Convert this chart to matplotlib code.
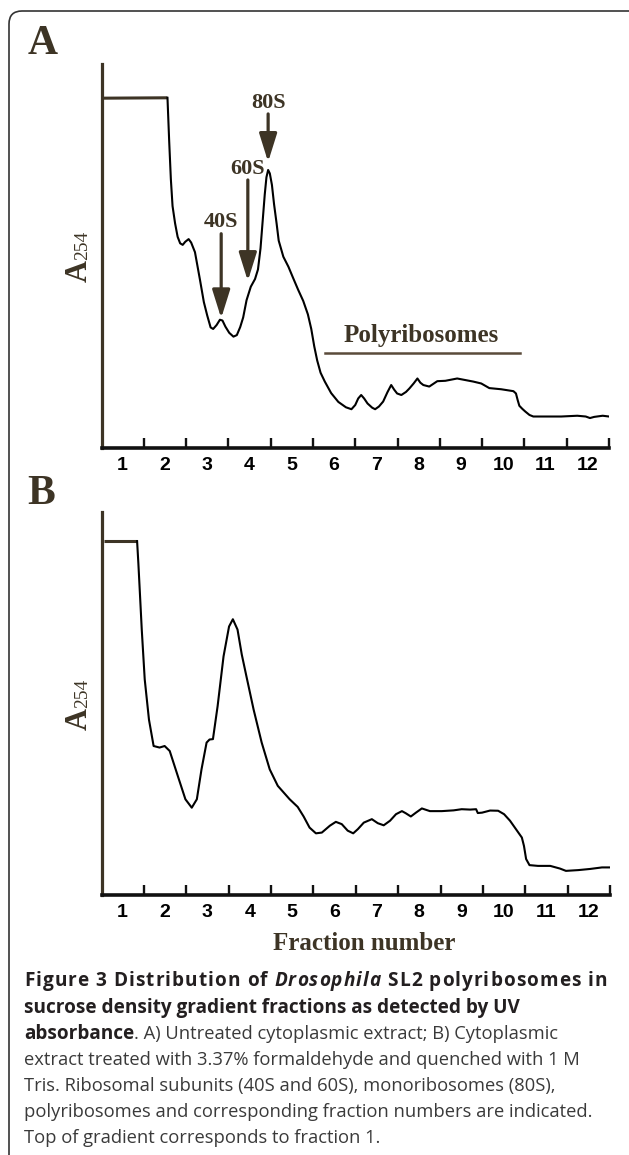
import matplotlib
matplotlib.use("Agg")
import matplotlib.pyplot as plt
import numpy as np
from matplotlib.patches import FancyBboxPatch

W, H = 629, 1155
BROWN = "#3d3425"

# panel A: untreated extract, A254 trace (x = fraction position, y = relative absorbance)
x_a = [0.05, 1.56, 1.60, 1.64, 1.68, 1.74, 1.80, 1.86, 1.92, 1.98, 2.06, 2.12, 2.21,
       2.33, 2.42, 2.50, 2.58, 2.64, 2.72, 2.80, 2.86, 2.93, 3.02, 3.12, 3.20, 3.28,
       3.35, 3.43, 3.53, 3.63, 3.70, 3.76, 3.81, 3.86, 3.90, 3.94, 3.98, 4.03, 4.08,
       4.14, 4.19, 4.30, 4.42, 4.53, 4.65, 4.77, 4.88, 4.96, 5.03, 5.10, 5.18, 5.28,
       5.43, 5.60, 5.78, 5.91, 6.00, 6.07, 6.14, 6.21, 6.29, 6.40, 6.47, 6.56, 6.66,
       6.76, 6.85, 6.92, 6.99, 7.09, 7.20, 7.28, 7.38, 7.47, 7.54, 7.61, 7.75, 7.94,
       8.13, 8.41, 8.60, 8.79, 8.98, 9.17, 9.45, 9.74, 9.80, 9.84, 9.88, 9.95, 10.02,
       10.12, 10.21, 10.87, 11.25, 11.45, 11.55, 11.65, 11.85, 12.0]
y_a = [91.1, 91.2, 80.0, 70.0, 63.0, 58.5, 55.0, 53.3, 52.9, 53.7, 54.4, 53.5, 51.0,
       43.7, 38.0, 34.5, 31.4, 31.0, 32.0, 33.4, 33.2, 31.6, 30.0, 29.0, 29.4, 31.5,
       34.0, 38.5, 42.0, 44.0, 46.5, 52.0, 59.0, 66.0, 70.5, 72.4, 71.5, 68.5, 63.5,
       58.5, 54.0, 49.8, 47.2, 44.3, 41.2, 38.3, 34.8, 31.0, 26.5, 22.8, 19.6, 17.3,
       14.3, 12.0, 10.6, 10.1, 11.2, 12.9, 13.8, 12.9, 11.6, 10.5, 10.1, 10.8, 12.1,
       14.5, 16.4, 15.2, 14.2, 13.8, 14.6, 15.5, 16.8, 18.1, 17.0, 16.4, 16.0, 17.4,
       17.5, 18.1, 17.7, 17.3, 16.8, 15.6, 15.3, 14.8, 14.2, 12.5, 11.0, 10.2, 9.5,
       8.6, 8.2, 8.2, 8.4, 8.2, 7.8, 8.1, 8.4, 8.2]

# panel B: formaldehyde treated extract
x_b = [0.05, 0.84, 0.87, 0.91, 0.95, 1.02, 1.12, 1.23, 1.37, 1.49, 1.61, 1.80, 1.98,
       2.13, 2.25, 2.36, 2.48, 2.55, 2.63, 2.74, 2.88, 3.01, 3.10, 3.21, 3.31, 3.42,
       3.59, 3.78, 3.97, 4.16, 4.44, 4.63, 4.77, 4.91, 5.06, 5.20, 5.39, 5.53, 5.67,
       5.81, 5.94, 6.05, 6.19, 6.38, 6.52, 6.66, 6.81, 6.95, 7.09, 7.18, 7.30, 7.42,
       7.56, 7.75, 8.03, 8.31, 8.50, 8.70, 8.84, 8.88, 8.98, 9.17, 9.36, 9.50, 9.64,
       9.78, 9.92, 9.97, 10.02, 10.10, 10.30, 10.59, 10.82, 10.96, 11.25, 11.53, 11.81,
       12.0]
y_b = [92.4, 92.4, 86.6, 78.0, 69.3, 56.3, 45.8, 38.9, 38.5, 38.9, 37.6, 31.1, 25.0,
       22.8, 25.0, 32.8, 39.8, 40.6, 40.7, 49.3, 62.3, 70.1, 72.0, 69.3, 62.8, 57.1,
       48.4, 39.8, 32.8, 28.5, 25.0, 23.0, 20.5, 17.6, 16.1, 16.3, 18.1, 19.1, 18.5,
       16.8, 16.1, 17.2, 18.9, 19.8, 18.75, 18.2, 19.4, 21.1, 21.9, 21.35, 20.5, 21.5,
       22.6, 21.9, 21.9, 22.1, 22.4, 22.3, 22.4, 21.4, 21.5, 22.05, 22.0, 21.1, 19.4,
       17.2, 15.0, 12.8, 9.4, 7.8, 7.6, 7.6, 6.9, 6.3, 6.5, 6.8, 7.2, 7.2]

fraction_labels = [str(i) for i in range(1, 13)]

# arrows in panel A: name, x, text y, arrow start y, arrow tip y
peak_names = ["80S", "60S", "40S"]
peak_x = [3.94, 3.46, 2.83]
peak_text_y = [89.8, 72.6, 58.8]
peak_start_y = [87.0, 69.8, 55.8]
peak_tip_y = [74.5, 43.5, 33.8]

# caption: list of lines, each a list of (text, weight, style)
caption_lines = [
    [("Figure", "bold", "normal"), ("3", "bold", "normal"), ("Distribution", "bold", "normal"),
     ("of", "bold", "normal"), ("Drosophila", "bold", "italic"), ("SL2", "bold", "normal"),
     ("polyribosomes", "bold", "normal"), ("in", "bold", "normal")],
    [("sucrose density gradient fractions as detected by UV", "bold", "normal")],
    [("absorbance", "bold", "normal"),
     (". A) Untreated cytoplasmic extract; B) Cytoplasmic", "normal", "normal")],
    [("extract treated with 3.37% formaldehyde and quenched with 1 M", "normal", "normal")],
    [("Tris. Ribosomal subunits (40S and 60S), monoribosomes (80S),", "normal", "normal")],
    [("polyribosomes and corresponding fraction numbers are indicated.", "normal", "normal")],
    [("Top of gradient corresponds to fraction 1.", "normal", "normal")],
]
caption_y = [981, 1008, 1034, 1060, 1086, 1112, 1138]


def fx(px):
    return px / W


def fy(py):
    return 1 - py / H


fig = plt.figure(figsize=(W / 100, H / 100), dpi=100)
fig.patch.set_facecolor("white")

# frame with round corner (cropped at right and bottom)
frame = FancyBboxPatch((0.09, -1.0), 8.0, H / 100 - 0.11 + 1.0,
                       boxstyle="round,pad=0,rounding_size=0.13",
                       transform=fig.dpi_scale_trans, facecolor="none",
                       edgecolor="#333333", lw=1.2)
fig.patches.append(frame)

serif = ["Liberation Serif", "DejaVu Serif"]
narrow = ["Liberation Sans Narrow", "Liberation Sans", "DejaVu Sans"]


def setup_axes(ax):
    ax.set_xlim(0, 12)
    ax.set_ylim(0, 100)
    ax.spines["top"].set_visible(False)
    ax.spines["right"].set_visible(False)
    ax.spines["left"].set_color(BROWN)
    ax.spines["left"].set_linewidth(2.3)
    ax.spines["bottom"].set_color("#111111")
    ax.spines["bottom"].set_linewidth(2.6)
    ax.set_yticks([])
    ax.set_xticks(range(1, 13))
    ax.tick_params(axis="x", which="major", direction="in", length=7.5,
                   width=1.7, color="#111111", labelbottom=False)
    ax.set_xticks(np.arange(0.5, 12, 1), minor=True)
    ax.set_xticklabels(fraction_labels, minor=True, fontsize=14,
                       fontweight="bold", family=narrow)
    ax.tick_params(axis="x", which="minor", length=0, pad=6.5)
    ax.patch.set_alpha(0)


ax_a = fig.add_axes([fx(101.5), fy(448), (609 - 101.5) / W, (448 - 64) / H])
ax_b = fig.add_axes([fx(101.5), fy(895), (610 - 101.5) / W, (895 - 512) / H])

for ax, xs, ys in [(ax_a, x_a, y_a), (ax_b, x_b, y_b)]:
    setup_axes(ax)
    ax.plot(xs[:2], ys[:2], color=BROWN, lw=2.2, solid_capstyle="butt")
    ax.plot(xs[1:], ys[1:], color="black", lw=1.5, solid_joinstyle="round")

# peak arrows
for name, px, ty, sy, tip in zip(peak_names, peak_x, peak_text_y, peak_start_y, peak_tip_y):
    ax_a.text(px, ty, name, ha="center", va="center", fontsize=16,
              fontweight="bold", family=serif, color=BROWN)
    ax_a.annotate("", xy=(px, tip), xytext=(px, sy),
                  arrowprops=dict(arrowstyle="-|>,head_length=1.15,head_width=0.36",
                                  mutation_scale=15, lw=2.3, color=BROWN,
                                  shrinkA=0, shrinkB=0))

ax_a.text(7.56, 29.4, "Polyribosomes", ha="center", va="center", fontsize=18,
          fontweight="bold", family=serif, color=BROWN)
ax_a.plot([5.29, 9.9], [24.7, 24.7], color="#5a4b3a", lw=1.8)

# A254 labels
for base_y in [282, 730]:
    fig.text(fx(87), fy(base_y), "A", rotation=90, rotation_mode="anchor",
             ha="left", va="baseline", fontsize=22, fontweight="bold",
             family=serif, color=BROWN)
    fig.text(fx(87), fy(base_y - 22), "254", rotation=90, rotation_mode="anchor",
             ha="left", va="baseline", fontsize=14, family=serif, color=BROWN)

fig.text(fx(42.5), fy(44), "A", ha="center", va="center", fontsize=30,
         fontweight="bold", family=serif, color=BROWN)
fig.text(fx(41), fy(494), "B", ha="center", va="center", fontsize=30,
         fontweight="bold", family=serif, color=BROWN)

fig.text(fx(364), fy(943), "Fraction number", ha="center", va="center",
         fontsize=18, fontweight="bold", family=serif, color=BROWN)

# caption
renderer = fig.canvas.get_renderer()
cap_font = ["Open Sans", "DejaVu Sans"]
cap_size = {"bold": 13.7, "normal": 13.2}
cap_color = {"bold": "#231f20", "normal": "#3a3a3a"}
x_start = 24


def cap_text(x, yy, txt, weight, style):
    return fig.text(fx(x), fy(yy), txt, ha="left", va="center",
                    fontsize=cap_size[weight], fontweight=weight, style=style,
                    family=cap_font, color=cap_color[weight])


def text_width(txt, weight, style):
    t = cap_text(0, -100, txt, weight, style)
    w = t.get_window_extent(renderer).width
    t.remove()
    return w


for i, (pieces, yy) in enumerate(zip(caption_lines, caption_y)):
    if i == 0:
        # first line is justified with letter spacing, as in the journal layout
        words = []
        for word, wt, st in pieces:
            # start of each letter inside the word, kerning included
            rel = [0.0] + [text_width(word[:k + 1], wt, st) - text_width(word[k], wt, st)
                           for k in range(1, len(word))]
            full = text_width(word + "H", wt, st) - text_width("H", wt, st)
            words.append((word, wt, st, rel, full))
        sp = text_width("a a", "bold", "normal") - text_width("aa", "bold", "normal")
        natural = sum(w[4] for w in words) + sp * (len(words) - 1)
        n_chars = sum(len(w[0]) for w in words) + len(words) - 1
        track = (583 - natural) / (n_chars - 1)
        x = x_start
        for word, wt, st, rel, full in words:
            for k, c in enumerate(word):
                cap_text(x + rel[k] + track * k, yy, c, wt, st)
            x += full + track * len(word) + sp + track
        continue
    x = x_start
    for txt, weight, style in pieces:
        t = cap_text(x, yy, txt, weight, style)
        x += t.get_window_extent(renderer).width

fig.savefig("out.png", dpi=100)
